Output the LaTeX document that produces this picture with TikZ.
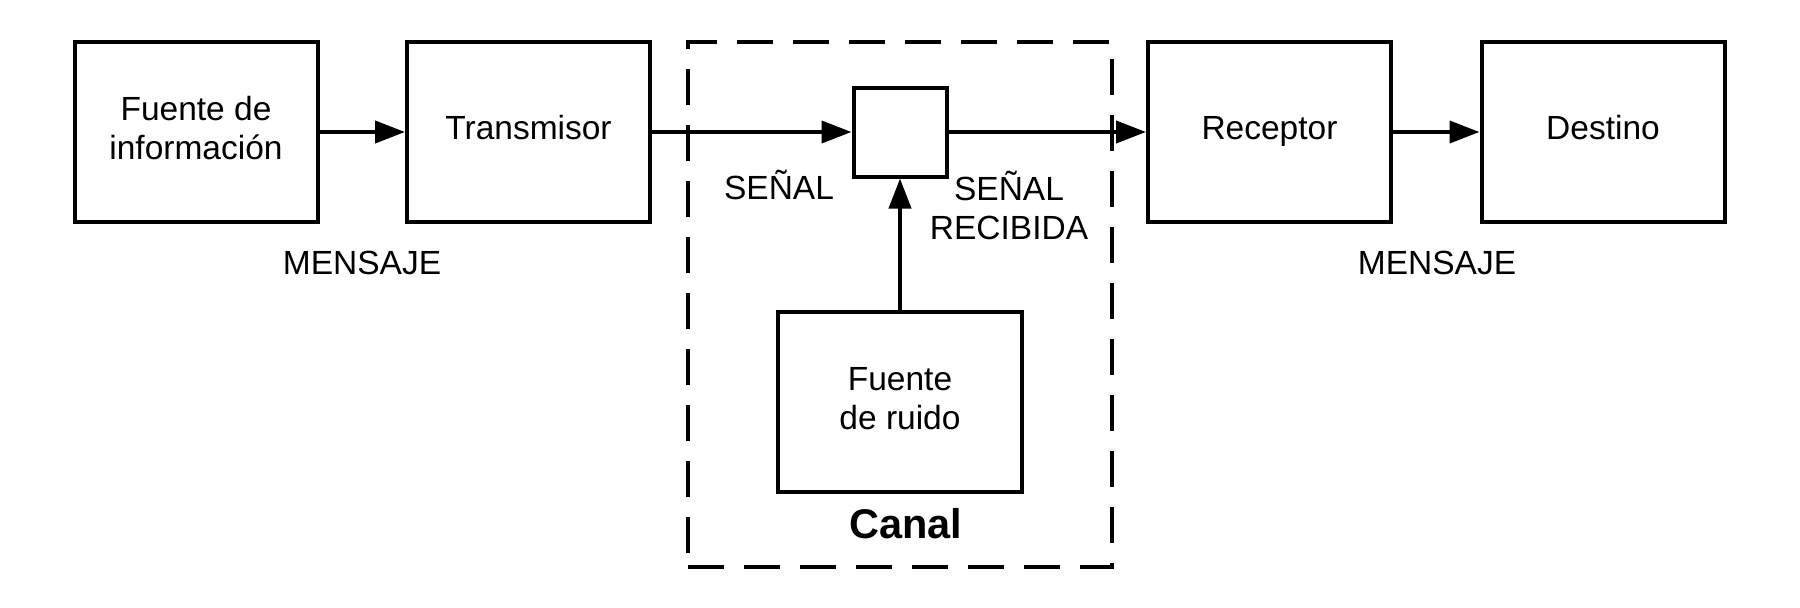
\documentclass[tikz,border=0pt]{standalone}
\usepackage{fontspec}
\setmainfont{Liberation Sans}
\usetikzlibrary{arrows.meta}
\begin{document}
\begin{tikzpicture}[x=1pt,y=-1pt,
  blk/.style={draw, line width=4pt, inner sep=0pt, align=center, font=\fontsize{33.5}{39}\selectfont},
  lbl/.style={inner sep=0pt, align=center, font=\fontsize{33.5}{39}\selectfont},
  conn/.style={line width=4pt, -{Triangle[length=30pt,width=22pt]}},
  chan/.style={draw, line width=4pt, dash pattern=on 36pt off 20pt, inner sep=0pt},
]
\useasboundingbox (0,0) rectangle (1800,608);
\node[chan, minimum width=424pt, minimum height=525pt] (canal) at (899.7,304.2) {};
\node[blk, minimum width=243pt, minimum height=180pt] (src) at (196,132) {\strut Fuente de\\\strut información};
\node[blk, minimum width=243pt, minimum height=180pt] (tx) at (528.5,132) {\strut Transmisor};
\node[blk, minimum width=93pt, minimum height=89pt] (sb) at (900,132) {};
\node[blk, minimum width=243pt, minimum height=180pt] (rx) at (1269.5,132) {\strut Receptor};
\node[blk, minimum width=243pt, minimum height=180pt] (dst) at (1603,132) {\strut Destino};
\node[blk, minimum width=244pt, minimum height=180pt] (noise) at (900,402) {\strut Fuente\\\strut de ruido};
\draw[conn] (src) -- (tx);
\draw[conn] (tx) -- (sb);
\draw[conn] (sb) -- (rx);
\draw[conn] (rx) -- (dst);
\draw[conn] (noise) -- (sb);
\node[lbl, anchor=base] (m1) at (362,274) {MENSAJE};
\node[lbl, anchor=base] (m2) at (1437,274) {MENSAJE};
\node[lbl, anchor=base] (s1) at (779,199) {SEÑAL};
\node[lbl] (s2) at (1009,210.9) {\strut SEÑAL\\\strut RECIBIDA};
\node[inner sep=0pt, anchor=base, font=\fontsize{41.5}{48}\selectfont\bfseries] (cl) at (906,538.3) {Canal};
\end{tikzpicture}
\end{document}
